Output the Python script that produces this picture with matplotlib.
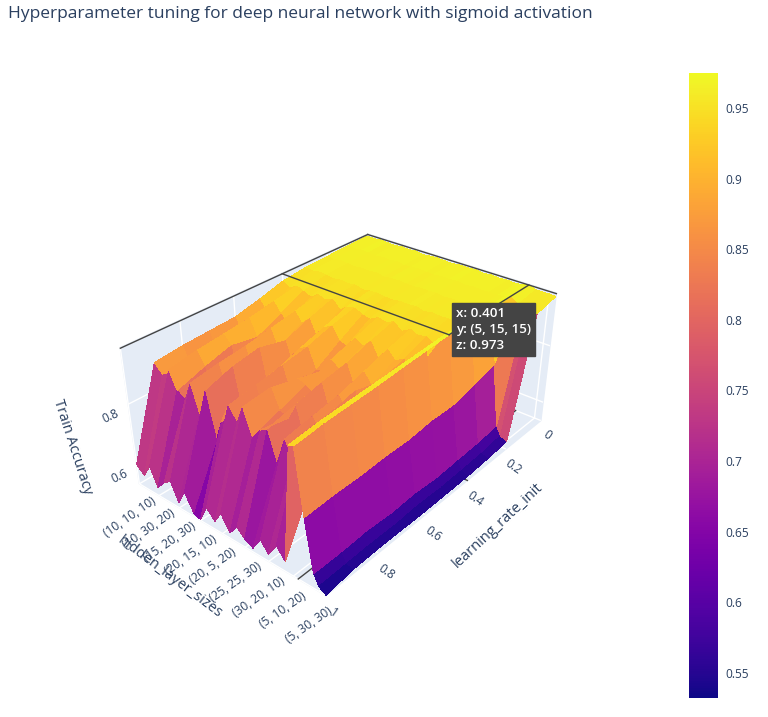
import itertools
import numpy as np
import matplotlib
matplotlib.use("Agg")
import matplotlib.pyplot as plt
from matplotlib.colors import Normalize
from matplotlib.cm import ScalarMappable
from mpl_toolkits.mplot3d import proj3d

plt.rcParams['font.family'] = ['Open Sans', 'DejaVu Sans']
COR_TXT = '#2a3f5f'

titulo = "Hyperparameter tuning for deep neural network with sigmoid activation"

# eixo x: learning_rate_init
learning_rate_init = [0.001, 0.1, 0.2, 0.3, 0.401, 0.5, 0.6, 0.7, 0.8, 0.9, 1.0]

# eixo y: hidden_layer_sizes (amostra das categorias)
hidden_layer_sizes = [
    "(10, 10, 10)", "(10, 15, 25)", "(10, 25, 10)", "(10, 30, 20)", "(10, 5, 5)",
    "(15, 15, 20)", "(15, 20, 30)", "(15, 30, 15)", "(15, 5, 30)",
    "(20, 15, 10)", "(20, 20, 25)", "(20, 30, 10)", "(20, 5, 20)",
    "(25, 10, 5)", "(25, 20, 20)", "(25, 25, 30)", "(25, 5, 15)",
    "(30, 10, 30)", "(30, 20, 10)", "(30, 25, 25)", "(30, 5, 10)",
    "(5, 10, 20)", "(5, 15, 15)", "(5, 20, 25)", "(5, 25, 5)", "(5, 30, 30)", "(5, 5, 5)",
]

# train accuracy: linhas = hidden_layer_sizes, colunas = learning_rate_init
train_accuracy = [
    [.968, .965, .962, .958, .948, .925, .905, .900, .895, .885, .600],
    [.966, .963, .960, .955, .935, .890, .850, .820, .840, .860, .575],
    [.969, .966, .963, .960, .950, .935, .920, .910, .900, .885, .620],
    [.967, .964, .961, .957, .940, .905, .870, .885, .860, .830, .560],
    [.965, .962, .959, .954, .930, .880, .830, .790, .770, .810, .590],
    [.968, .965, .962, .958, .948, .930, .915, .900, .890, .875, .610],
    [.966, .963, .960, .955, .938, .900, .860, .830, .810, .790, .550],
    [.969, .966, .963, .959, .950, .925, .895, .915, .900, .870, .600],
    [.964, .961, .958, .952, .925, .870, .820, .780, .750, .730, .545],
    [.967, .964, .961, .956, .942, .915, .890, .860, .830, .800, .535],
    [.968, .965, .962, .958, .948, .930, .905, .890, .875, .860, .590],
    [.966, .963, .960, .954, .935, .890, .840, .810, .790, .820, .560],
    [.965, .962, .959, .953, .930, .885, .850, .870, .890, .880, .600],
    [.968, .965, .962, .957, .945, .920, .895, .860, .830, .800, .550],
    [.967, .964, .961, .956, .940, .905, .875, .845, .820, .835, .585],
    [.969, .966, .963, .959, .950, .930, .905, .890, .870, .850, .560],
    [.965, .962, .959, .952, .930, .880, .830, .800, .775, .760, .545],
    [.968, .965, .962, .957, .946, .925, .900, .875, .860, .845, .590],
    [.966, .963, .960, .955, .936, .900, .870, .840, .820, .800, .555],
    [.967, .964, .961, .956, .942, .915, .890, .910, .890, .870, .600],
    [.965, .962, .958, .951, .925, .875, .825, .790, .770, .750, .565],
    [.970, .969, .968, .966, .965, .960, .955, .950, .945, .940, .930],
    [.972, .972, .971, .971, .973, .968, .962, .955, .950, .945, .935],
    [.966, .955, .800, .780, .760, .760, .750, .750, .745, .745, .740],
    [.965, .950, .600, .590, .585, .580, .585, .580, .585, .580, .580],
    [.966, .952, .570, .560, .555, .552, .555, .550, .552, .550, .548],
    [.964, .948, .560, .552, .547, .546, .545, .546, .547, .545, .533],
]

tick_lr = [0, 0.2, 0.4, 0.6, 0.8, 1]
tick_hls = ["(10, 10, 10)", "(10, 30, 20)", "(15, 20, 30)", "(20, 15, 10)", "(20, 5, 20)",
            "(25, 25, 30)", "(30, 20, 10)", "(5, 10, 20)", "(5, 30, 30)"]
tick_z = [0.6, 0.8]
cbar_ticks = [0.55, 0.6, 0.65, 0.7, 0.75, 0.8, 0.85, 0.9, 0.95]

# ponto do hover
hover_x, hover_y, hover_z = 0.401, "(5, 15, 15)", 0.973

# ordem completa das categorias (ordenacao por texto, como no plotly)
tamanhos = [5, 10, 15, 20, 25, 30]
todas = sorted(str(t) for t in itertools.product(tamanhos, repeat=3))
pos = {c: i for i, c in enumerate(todas)}
ypos = [pos[c] for c in hidden_layer_sizes]

X, Y = np.meshgrid(learning_rate_init, ypos)
Z = np.array(train_accuracy)
zmin, zmax = 0.532, 0.975
norm = Normalize(vmin=zmin, vmax=zmax)

fig = plt.figure(figsize=(7.68, 7.17), dpi=100)
ax = fig.add_axes([0.0044, -0.0025, 0.88, 0.9], projection='3d', computed_zorder=False)

for axis in (ax.xaxis, ax.yaxis, ax.zaxis):
    axis.set_pane_color('#E5ECF6')
    axis.pane.set_edgecolor('#E5ECF6')
    axis._axinfo['grid'].update(color='white', linewidth=1.0)
    axis._axinfo['tick'].update(inward_factor=0, outward_factor=0)
    axis.line.set_color((1, 1, 1, 0))

hx = hover_x
hy = pos[hover_y]
hz = hover_z
ymax_cat = len(todas) - 1

# spikes no chao (abaixo da superficie)
ax.plot([0, 1], [hy, hy], [zmin, zmin], color='#444444', lw=1, zorder=1)
ax.plot([hx, hx], [hy, ymax_cat], [zmin, zmin], color='#444444', lw=1, zorder=1)

ax.plot_surface(X, Y, Z, cmap='plasma', norm=norm, rstride=1, cstride=1,
                linewidth=0, antialiased=False, shade=False, zorder=2)

# spikes superiores
ax.plot([0, 1], [0, 0], [hz, hz], color='#444444', lw=1, zorder=3)
ax.plot([0, 0], [0, ymax_cat], [hz, hz], color='#444444', lw=1, zorder=3)
ax.plot([0, hx], [hy, hy], [hz, hz], color='#444444', lw=1, zorder=3)
ax.plot([hx, hx], [0, hy], [hz, hz], color='#444444', lw=1, zorder=3)

ax.set_xlim(0, 1)
ax.set_ylim(0, ymax_cat)
ax.set_zlim(zmin, zmax)
ax.set_xticks(tick_lr)
ax.set_xticklabels([f"{v:g}" for v in tick_lr])
ax.set_yticks([pos[c] for c in tick_hls])
ax.set_yticklabels(tick_hls)
ax.set_zticks(tick_z)
ax.set_zticklabels([f"{v:g}" for v in tick_z])
ax.tick_params(labelsize=8.6, colors=COR_TXT, pad=1)
for lbl in ax.get_yticklabels():
    lbl.set_rotation(35)
for lbl in ax.get_xticklabels():
    lbl.set_rotation(-35)
for lbl in ax.get_zticklabels():
    lbl.set_rotation(25)

ax.set_box_aspect((1.45, 1.0, 0.625), zoom=0.6905)
ax.view_init(elev=31, azim=40)
ax.set_proj_type('persp', focal_length=0.275)

# titulos dos eixos
fig.text(498 / 768, 1 - 525 / 717, "learning_rate_init", fontsize=10.5, color=COR_TXT,
         rotation=43, ha='center', va='center', rotation_mode='anchor')
fig.text(170 / 768, 1 - 577 / 717, "hidden_layer_sizes", fontsize=10.5, color=COR_TXT,
         rotation=-37, ha='center', va='center', rotation_mode='anchor')
fig.text(72 / 768, 1 - 447 / 717, "Train Accuracy", fontsize=10.5, color=COR_TXT,
         rotation=-72, ha='center', va='center', rotation_mode='anchor')

fig.text(8 / 768, 1 - 14 / 717, titulo, fontsize=12.5, color=COR_TXT, ha='left', va='center')

cax = fig.add_axes([689 / 768, 1 - 698 / 717, 29 / 768, (698 - 73) / 717])
sm = ScalarMappable(norm=norm, cmap='plasma')
cb = fig.colorbar(sm, cax=cax)
cb.outline.set_visible(False)
cb.set_ticks(cbar_ticks)
cb.set_ticklabels([f"{v:g}" for v in cbar_ticks])
cb.ax.tick_params(length=0, labelsize=8.6, colors=COR_TXT, pad=5)

# caixa do hover
fig.canvas.draw()
px, py, _ = proj3d.proj_transform(hx, hy, hz, ax.get_proj())
ax.annotate(f"x: {hover_x}\ny: {hover_y}\nz: {hover_z}", xy=(px, py), xycoords='data',
            xytext=(5, 4), textcoords='offset points', ha='left', va='center',
            color='white', fontsize=9.6, fontweight='semibold', linespacing=1.3,
            bbox=dict(boxstyle='square,pad=0.3', fc='#444444', ec='#444444'))

plt.savefig("out.png", dpi=100)
